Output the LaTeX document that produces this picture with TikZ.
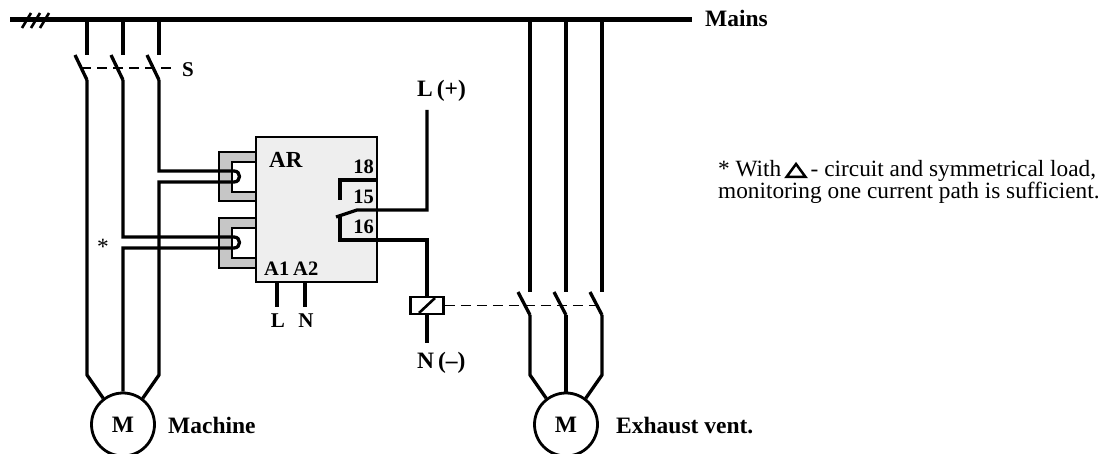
\documentclass[tikz,border=0pt]{standalone}
\usepackage{fontspec}
\setmainfont{Liberation Serif}
\definecolor{boxgray}{HTML}{EEEEEE}
\definecolor{ctgray}{HTML}{C6C6C6}
\begin{document}
\begin{tikzpicture}[x=1pt,y=-1pt,
  wire/.style={line width=3.3pt},
  busline/.style={line width=5pt},
  mech/.style={line width=1.8pt, dash pattern=on 10pt off 6pt},
  big/.style={font=\fontsize{23.5}{24}\selectfont\bfseries, inner sep=0pt},
  small/.style={font=\fontsize{21}{22}\selectfont\bfseries, inner sep=0pt},
  note/.style={font=\fontsize{23.3}{21}\selectfont, inner sep=0pt},
  motor/.style={circle, draw, line width=2.8pt, minimum size=63pt, inner sep=0pt, font=\fontsize{23.5}{24}\selectfont\bfseries},
  ctout/.style={draw, line width=2.7pt, fill=ctgray},
  ctin/.style={draw, line width=2.7pt, fill=white},
  relaybox/.style={draw, line width=2.7pt, fill=boxgray},
  coilbox/.style={draw, line width=2.9pt, minimum width=33pt, minimum height=17pt, inner sep=0pt}
]
\useasboundingbox (0,0) rectangle (1114,454);

% ---- mains bus
\coordinate (busL) at (10,20);
\coordinate (busR) at (692,20);
\draw[busline] (busL) -- (busR);
\foreach \x in {22,31,40} \draw[line width=2.6pt] (\x,28) -- (\x+9,13);
\node[big, anchor=base west] (mains) at (705,27) {Mains};

% ---- relay box and current transformers
\draw[relaybox] (256,137) rectangle (377,282);
\draw[ctout] (219,152) rectangle (256,201);
\draw[ctin] (232,162) rectangle (256,192);
\draw[ctout] (219,218) rectangle (256,268);
\draw[ctin] (232,228) rectangle (256,258);

% ---- motors
\node[motor] (m1) at (123,424.5) {M};
\node[motor] (m2) at (566,424.5) {M};
\node[big, anchor=base west] (mach) at (168,433) {Machine};
\node[big, anchor=base west] (exh) at (616,433) {Exhaust vent.};

% ---- machine switch S
\foreach \n/\x in {a/87,b/123,c/159} {
  \coordinate (mt\n) at (\x,20);
  \coordinate (ms\n) at (\x,55);
  \coordinate (mk\n) at (\x-12,55);
  \coordinate (ml\n) at (\x,80);
  \draw[wire] (mt\n) -- (ms\n);
  \draw[wire] (mk\n) -- (ml\n);
}
\coordinate (sA) at (81,68);
\coordinate (sB) at (175,68);
\draw[mech] (sA) -- (sB);
\node[small, anchor=base west] (S) at (182,77) {S};

% ---- machine phase a (direct)
\coordinate (a1) at (87,375);
\draw[wire] (mla) -- (a1) -- (m1.127);

% ---- machine phase b (through lower CT)
\coordinate (b1) at (123,237);
\coordinate (b2) at (234,237);
\coordinate (b3) at (234,248);
\coordinate (b4) at (123,248);
\draw[wire] (mlb) -- (b1) -- (b2) .. controls (241.3,237) and (241.3,248) .. (b3) -- (b4) -- (m1.90);

% ---- machine phase c (through upper CT)
\coordinate (c1) at (159,171);
\coordinate (c2) at (234,171);
\coordinate (c3) at (234,182);
\coordinate (c4) at (159,182);
\coordinate (c5) at (159,375);
\draw[wire] (mlc) -- (c1) -- (c2) .. controls (241.3,171) and (241.3,182) .. (c3) -- (c4) -- (c5) -- (m1.53);

\node[note, anchor=base] (star) at (103,255) {*};

% ---- relay labels
\node[big, font=\fontsize{23}{23}\selectfont\bfseries, anchor=base west] (AR) at (269,168) {AR};
\node[small, font=\fontsize{20.5}{20}\selectfont\bfseries, anchor=base east] (t18) at (374,174) {18};
\node[small, font=\fontsize{20.5}{20}\selectfont\bfseries, anchor=base east] (t15) at (374,204) {15};
\node[small, font=\fontsize{20.5}{20}\selectfont\bfseries, anchor=base east] (t16) at (374,234) {16};
\node[small, font=\fontsize{20.5}{20}\selectfont\bfseries, anchor=base west] (A1) at (264,276) {A1};
\node[small, font=\fontsize{20.5}{20}\selectfont\bfseries, anchor=base west] (A2) at (293,276) {A2};

% ---- supply terminals A1 A2
\coordinate (a1t) at (277,282);
\coordinate (a1b) at (277,307);
\coordinate (a2t) at (305,282);
\coordinate (a2b) at (305,307);
\draw[wire] (a1t) -- (a1b);
\draw[wire] (a2t) -- (a2b);
\node[small, anchor=base] (Lsup) at (278,328) {L};
\node[small, anchor=base] (Nsup) at (306,328) {N};

% ---- output contact
\coordinate (k18a) at (377,180);
\coordinate (k18b) at (340,180);
\coordinate (k18c) at (340,200);
\draw[wire] (k18a) -- (k18b) -- (k18c);
\coordinate (bl1) at (336,217);
\coordinate (bl2) at (357,210);
\coordinate (k15) at (427,210);
\coordinate (lp) at (427,110);
\draw[wire] (bl1) -- (bl2) -- (k15) -- (lp);
\node[big, anchor=base west] (Lplus) at (417,97) {L\,(+)};

\node[coilbox] (coil) at (427,305.5) {};
\draw[line width=2.6pt] (419,313) -- (435,298);
\coordinate (k16a) at (340,217);
\coordinate (k16b) at (340,240);
\coordinate (k16c) at (427,240);
\draw[wire] (k16a) -- (k16b) -- (k16c) -- (coil.north);
\coordinate (nm) at (427,343);
\draw[wire] (coil.south) -- (nm);
\node[big, anchor=base west] (Nminus) at (417,368) {N\,(–)};

% ---- exhaust vent contactor
\foreach \n/\x in {a/530,b/566,c/602} {
  \coordinate (et\n) at (\x,20);
  \coordinate (es\n) at (\x,292);
  \coordinate (ek\n) at (\x-12,292);
  \coordinate (el\n) at (\x,315);
  \draw[wire] (et\n) -- (es\n);
  \draw[wire] (ek\n) -- (el\n);
}
\coordinate (ea1) at (530,375);
\coordinate (ec1) at (602,375);
\draw[wire] (ela) -- (ea1) -- (m2.127);
\draw[wire] (elb) -- (m2.90);
\draw[wire] (elc) -- (ec1) -- (m2.53);
\coordinate (dEnd) at (602,305.5);
\draw[mech] (coil.east) -- (dEnd);

% ---- note
\node[note, anchor=base west] (n1a) at (718,177) {* With};
\coordinate (triL) at ([xshift=5pt]n1a.base east);
\draw[line width=2.5pt, line join=miter] (triL) -- ++(19,0) -- ++(-9.5,-13) -- cycle;
\node[note, anchor=base west] (n1b) at ([xshift=29pt]n1a.base east) {- circuit and symmetrical load,};
\node[note, anchor=base west] (n2) at (718,199) {monitoring one current path is sufficient.};
\end{tikzpicture}
\end{document}
